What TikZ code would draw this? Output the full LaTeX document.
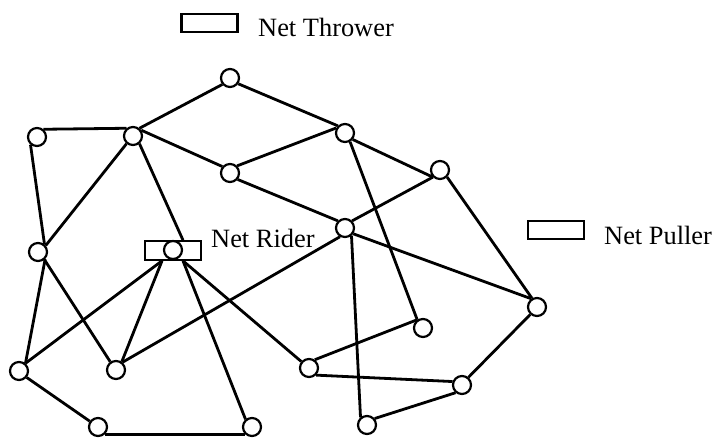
\documentclass[tikz,border=0pt]{standalone}
\usepackage{fontspec}
\setmainfont{Liberation Serif}
\usetikzlibrary{calc}
\tikzset{
  vtx/.style={circle, draw, line width=2.2pt, fill=white, inner sep=0pt, minimum size=18pt},
  box/.style={rectangle, draw, line width=2.2pt, fill=white, inner sep=0pt, minimum width=56pt, minimum height=18.5pt},
  lbl/.style={anchor=base west, inner sep=0pt, font=\fontsize{26.4pt}{30pt}\selectfont},
  link/.style={line width=2.8pt}
}
\begin{document}
\begin{tikzpicture}[x=1pt,y=-1pt]
\useasboundingbox (0,0) rectangle (715,438);
% legend
\node[box] (thrower) at (209.5,23) {};
\node[lbl] (tlabel) at (258,37) {Net Thrower};
\node[box] (puller) at (556,230) {};
\node[lbl] (plabel) at (604,245) {Net Puller};
% rider
\node[box] (rider) at (173,250.5) {};
\node[vtx] (R) at (173,250) {};
\node[lbl] (rlabel) at (211,248) {Net Rider};
% vertices
\node[vtx] (A) at (230,78) {};
\node[vtx] (B) at (37,137) {};
\node[vtx] (C) at (133,136) {};
\node[vtx] (D) at (230,173) {};
\node[vtx] (E) at (345,133) {};
\node[vtx] (M) at (440,170) {};
\node[vtx] (F) at (345,228) {};
\node[vtx] (G) at (38,252) {};
\node[vtx] (N) at (537,307) {};
\node[vtx] (O) at (423,328) {};
\node[vtx] (H) at (19,371) {};
\node[vtx] (I) at (116,370) {};
\node[vtx] (J) at (309,368) {};
\node[vtx] (P) at (462,385) {};
\node[vtx] (K) at (98,427) {};
\node[vtx] (L) at (252,427) {};
\node[vtx] (Q) at (367,425) {};
% edges
\draw[link] (B.50) -- (C.130);
\draw[link] (C.50) -- (A.220);
\draw[link] (C.35) -- (D.140);
\draw[link] (A.-35) -- (E.135);
\draw[link] (D.45) -- (E.150);
\draw[link] (D.-40) -- (F.135);
\draw[link] (E.-40) -- (M.225);
\draw[link] (E.-60) -- (O.125);
\draw[link] (M.225) -- (F.45);
\draw[link] (M.-45) -- (N.120);
\draw[link] (F.-35) -- (N.125);
\draw[link] (F.-50) -- (Q.130);
\draw[link] (F.240) -- (I.50);
\draw[link] (B.230) -- (G.50);
\draw[link] (G.40) -- (C.230);
\draw[link] (C.-50) -- ($(rider.north)+(10,0)$);
\draw[link] (G.-45) -- (H.50);
\draw[link] (G.-50) -- (I.125);
\draw[link] ($(rider.south)+(-11,0)$) -- (H.50);
\draw[link] ($(rider.south)+(-11,0)$) -- (I.55);
\draw[link] ($(rider.south)+(10,0)$) -- (L.130);
\draw[link] ($(rider.south)+(10,0)$) -- (J.140);
\draw[link] (H.-40) -- (K.145);
\draw[link] (K.-45) -- (L.-135);
\draw[link] (J.55) -- (O.125);
\draw[link] (J.-45) -- (P.160);
\draw[link] (P.230) -- (Q.40);
\draw[link] (P.50) -- (N.228);
\end{tikzpicture}
\end{document}
